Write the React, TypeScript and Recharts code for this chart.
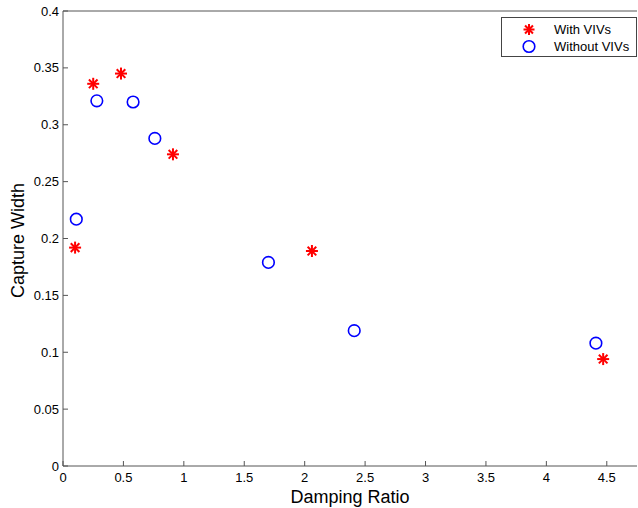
import React from 'react';
import { ScatterChart, Scatter, XAxis, YAxis, Legend } from 'recharts';

const withVivX = [0.1, 0.25, 0.48, 0.91, 2.06, 4.47];
const withVivY = [0.192, 0.336, 0.345, 0.274, 0.189, 0.094];
const withoutVivX = [0.11, 0.28, 0.58, 0.76, 1.7, 2.41, 4.41];
const withoutVivY = [0.217, 0.321, 0.32, 0.288, 0.179, 0.119, 0.108];
const xTicks = [0, 0.5, 1, 1.5, 2, 2.5, 3, 3.5, 4, 4.5];
const yTicks = [0, 0.05, 0.1, 0.15, 0.2, 0.25, 0.3, 0.35, 0.4];
const seriesNames = ['With VIVs', 'Without VIVs'];

const withData = withVivX.map((x, i) => ({ x, y: withVivY[i] }));
const withoutData = withoutVivX.map((x, i) => ({ x, y: withoutVivY[i] }));

const FONT = '"Liberation Sans", Arial, sans-serif';
const AXIS = '#555';

const Asterisk = ({ cx, cy, r = 6 }: any) => {
  const d = r * 0.72;
  return (
    <g stroke="#ff0000" strokeWidth={2} strokeLinecap="butt">
      <line x1={cx} y1={cy - r} x2={cx} y2={cy + r} />
      <line x1={cx - r} y1={cy} x2={cx + r} y2={cy} />
      <line x1={cx - d} y1={cy - d} x2={cx + d} y2={cy + d} />
      <line x1={cx - d} y1={cy + d} x2={cx + d} y2={cy - d} />
    </g>
  );
};

const Ring = ({ cx, cy }: any) => (
  <circle cx={cx} cy={cy} r={5.8} fill="none" stroke="#0000ff" strokeWidth={1.6} />
);

const LegendBox = () => (
  <div
    style={{
      width: 136,
      height: 40,
      boxSizing: 'border-box',
      border: '1px solid #444',
      background: '#fff',
      fontFamily: FONT,
      fontSize: 13,
      color: '#000',
      paddingTop: 3,
    }}
  >
    {seriesNames.map((name, i) => (
      <div key={name} style={{ display: 'flex', alignItems: 'center', height: 17 }}>
        <svg width={52} height={17} style={{ display: 'block' }}>
          {i === 0 ? <Asterisk cx={27} cy={8.5} r={5.5} /> : <Ring cx={27} cy={8.5} />}
        </svg>
        <span style={{ lineHeight: '17px' }}>{name}</span>
      </div>
    ))}
  </div>
);

const YLabel = (props: any) => {
  const vb = props.viewBox;
  const cx = 23.5;
  const cy = vb.y + vb.height / 2 + 2;
  return (
    <text
      x={cx}
      y={cy}
      transform={`rotate(-90 ${cx} ${cy})`}
      textAnchor="middle"
      fontFamily={FONT}
      fontSize={18}
      fill="#000"
    >
      Capture Width
    </text>
  );
};

export default function App() {
  const tickStyle = { fill: '#000', fontSize: 13, fontFamily: FONT };
  return (
    <div style={{ position: 'absolute', left: 0, top: 0, background: '#fff' }}>
      <ScatterChart width={638} height={508} margin={{ top: 10, right: 0, left: 0, bottom: 0 }}>
        <XAxis
          xAxisId="b"
          dataKey="x"
          type="number"
          domain={[0, 4.75]}
          ticks={xTicks}
          interval={0}
          allowDataOverflow
          height={42}
          tickSize={-5}
          tickMargin={12}
          stroke={AXIS}
          tick={tickStyle}
          label={{ value: 'Damping Ratio', position: 'insideBottom', offset: 5, fontSize: 18, fontFamily: FONT, fill: '#000' }}
        />
        <XAxis
          xAxisId="t"
          orientation="top"
          type="number"
          domain={[0, 4.75]}
          ticks={xTicks}
          interval={0}
          allowDataOverflow
          height={1}
          tickSize={-5}
          stroke={AXIS}
          tick={false}
        />
        <YAxis
          yAxisId="l"
          dataKey="y"
          type="number"
          domain={[0, 0.4]}
          ticks={yTicks}
          interval={0}
          allowDataOverflow
          width={63}
          tickSize={-5}
          tickMargin={9}
          stroke={AXIS}
          tick={tickStyle}
          label={<YLabel />}
        />
        <YAxis
          yAxisId="r"
          orientation="right"
          type="number"
          domain={[0, 0.4]}
          ticks={yTicks}
          interval={0}
          allowDataOverflow
          width={1}
          tickSize={-5}
          stroke={AXIS}
          axisLine={false}
          tick={false}
        />
        <Legend
          layout="vertical"
          align="center"
          verticalAlign="middle"
          content={<LegendBox />}
          wrapperStyle={{ left: 501, top: 17, width: 136, height: 40 }}
        />
        <Scatter
          name={seriesNames[0]}
          data={withData}
          xAxisId="b"
          yAxisId="l"
          shape={<Asterisk />}
          isAnimationActive={false}
        />
        <Scatter
          name={seriesNames[1]}
          data={withoutData}
          xAxisId="b"
          yAxisId="l"
          shape={<Ring />}
          isAnimationActive={false}
        />
      </ScatterChart>
    </div>
  );
}
